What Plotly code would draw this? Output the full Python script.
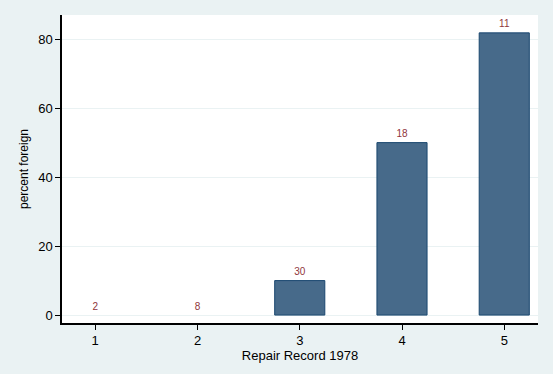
import plotly.graph_objects as go

rep_record = [1, 2, 3, 4, 5]
pct_foreign = [0, 0, 10, 50, 81.818]
counts = ["2", "8", "30", "18", "11"]
y_ticks = [0, 20, 40, 60, 80]

BG = "#EAF2F3"
font_family = "Liberation Sans, Arial, sans-serif"

line_widths = [1 if v > 0 else 0 for v in pct_foreign]

fig = go.Figure()
fig.add_trace(go.Bar(
    x=rep_record, y=pct_foreign, width=0.49,
    marker=dict(color="#476A8A", line=dict(color="#1A476F", width=line_widths)),
    hoverinfo="skip", showlegend=False,
))
fig.add_trace(go.Scatter(
    x=rep_record, y=pct_foreign, text=counts, mode="markers+text",
    marker=dict(size=3, opacity=0),
    textposition="top center",
    textfont=dict(color="#90353B", size=10, family=font_family),
    showlegend=False, hoverinfo="skip",
))

fig.update_layout(
    width=553, height=374,
    margin=dict(l=62, r=15, t=15, b=51),
    paper_bgcolor=BG, plot_bgcolor="white",
    font=dict(family=font_family, size=13, color="black"),
    xaxis=dict(
        range=[0.675, 5.33], tickvals=rep_record, ticks="outside", ticklen=5,
        tickcolor="black", showgrid=False, zeroline=False,
        showline=True, linecolor="black", linewidth=1.5,
        title=dict(text="Repair Record 1978", standoff=0, font=dict(size=13)),
        tickfont=dict(size=13),
    ),
    yaxis=dict(
        range=[-2.3, 87], tickvals=y_ticks, ticks="outside", ticklen=5,
        tickcolor="black", showgrid=True, gridcolor=BG, gridwidth=1,
        zeroline=False, showline=True, linecolor="black", linewidth=1.5,
        title=dict(text="percent foreign", standoff=7, font=dict(size=12)),
        tickfont=dict(size=13),
    ),
)

fig.write_html(
    "out.html",
    config={"displayModeBar": False},
    post_script="document.body.style.margin='0';document.body.style.background='#EAF2F3';",
)
